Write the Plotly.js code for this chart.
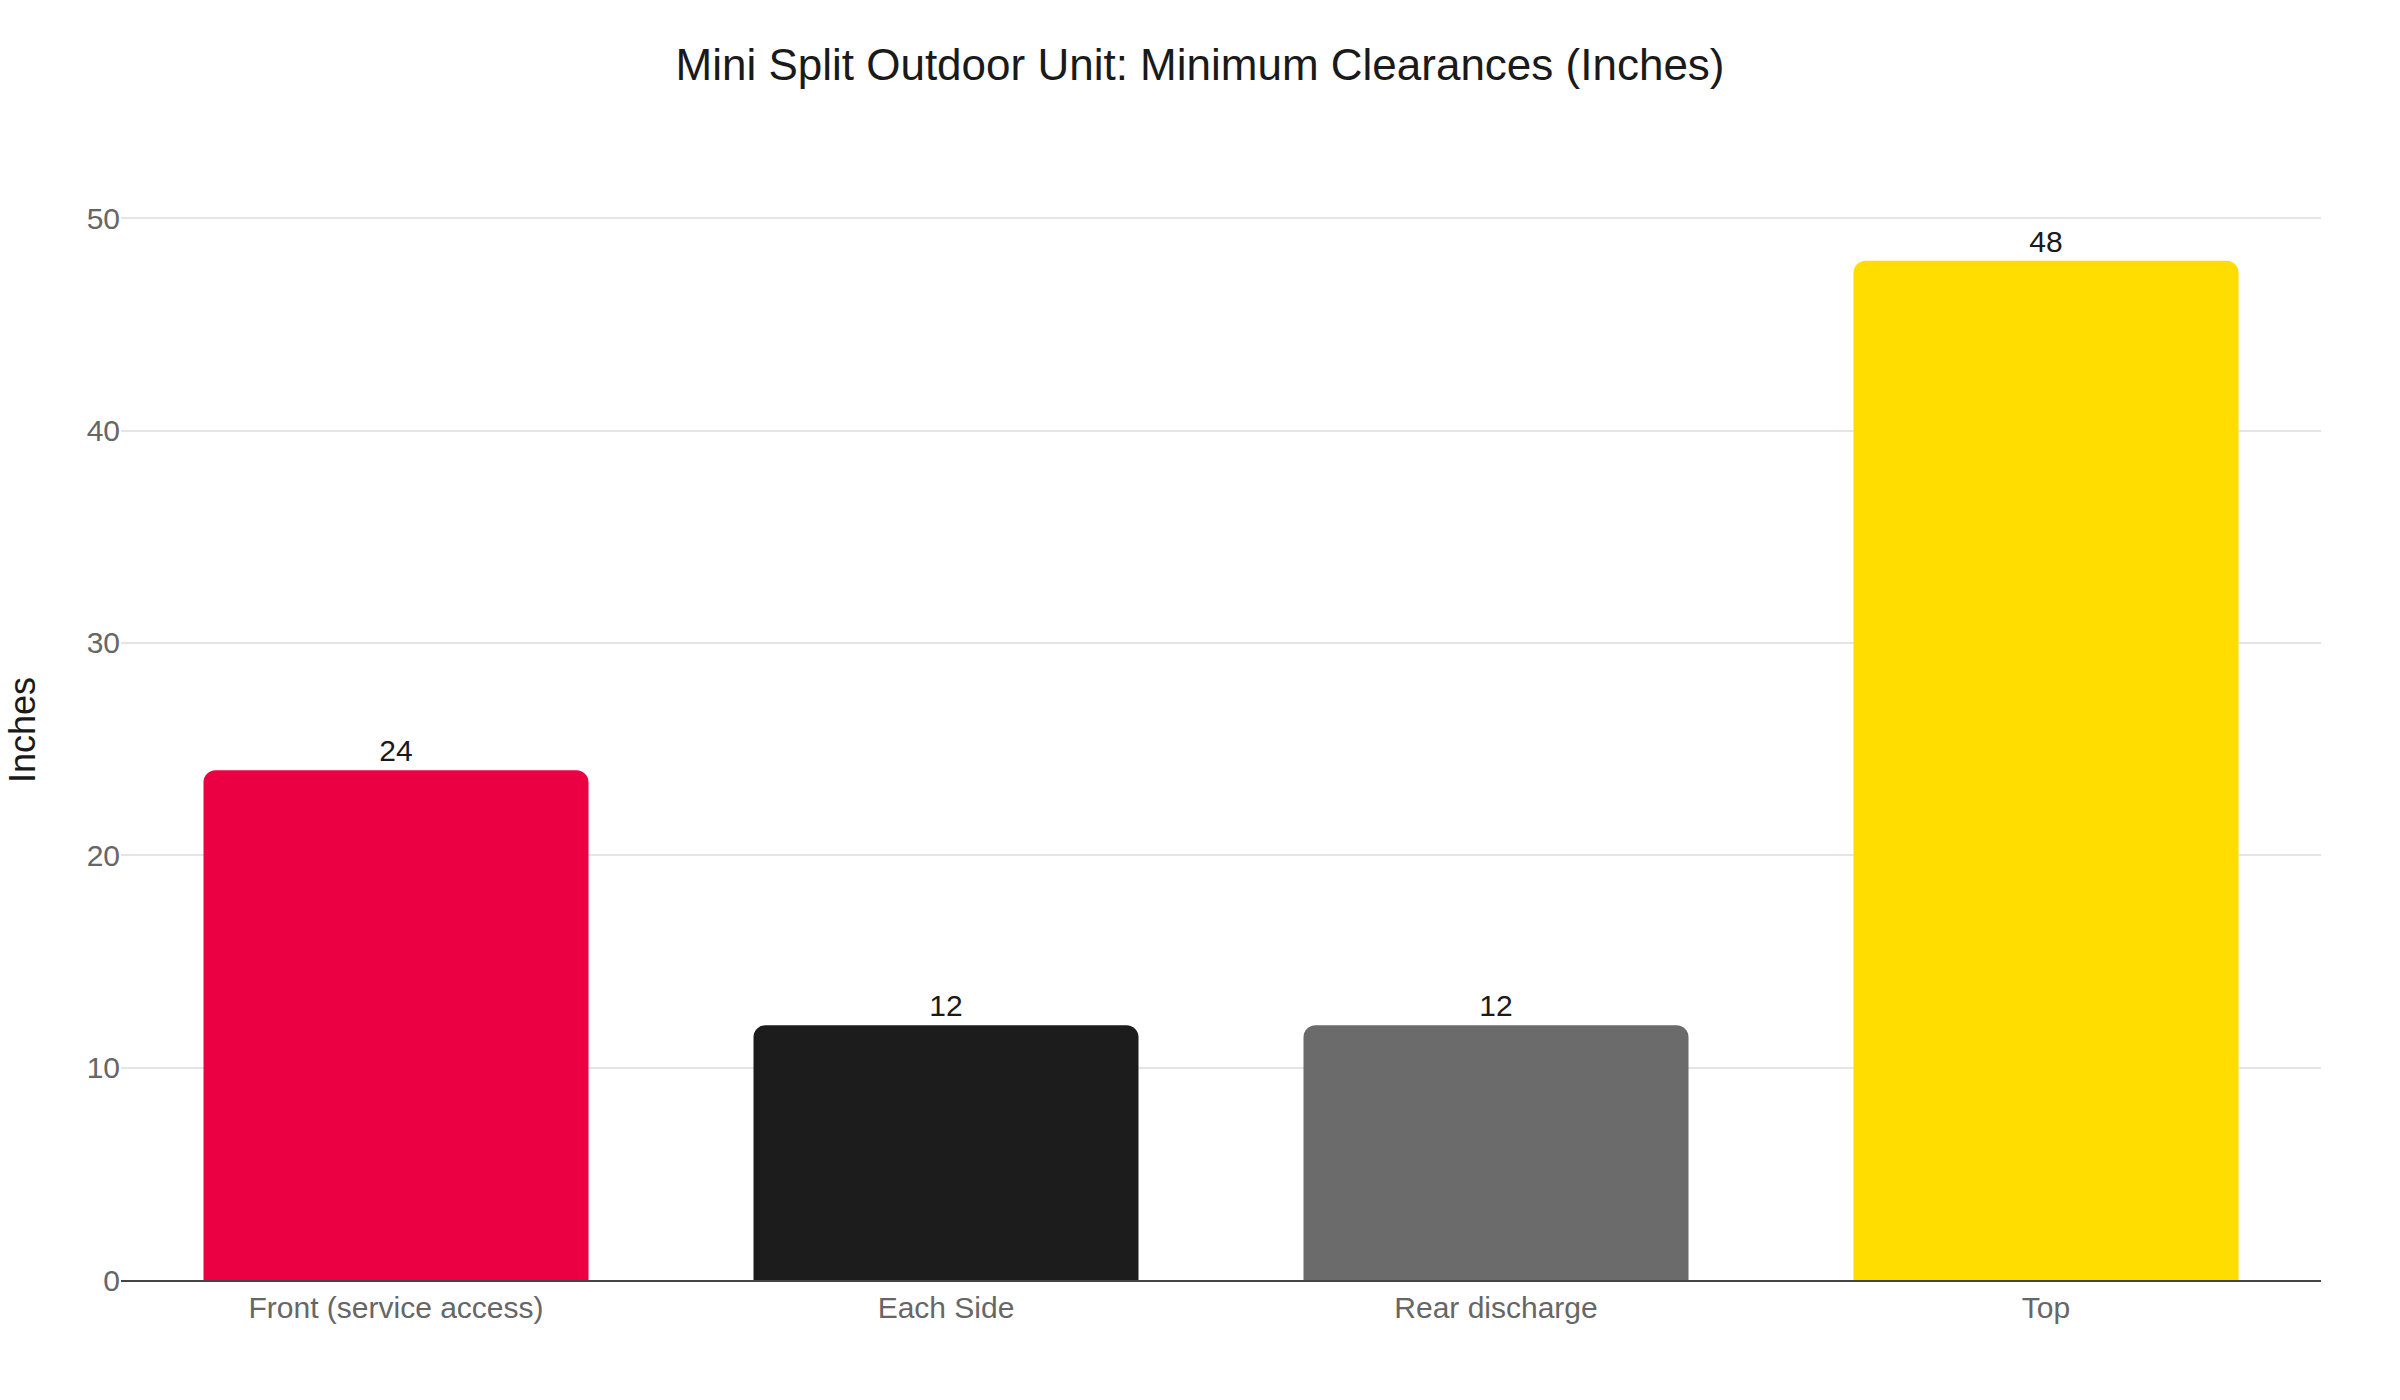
<!DOCTYPE html>
<html>
<head>
<meta charset="utf-8">
<script src="https://cdn.plot.ly/plotly-3.0.1.min.js"></script>
<style>
  html, body { margin: 0; padding: 0; background: #fff; }
  #chart { width: 2400px; height: 1400px; }
</style>
</head>
<body>
<div id="chart"></div>
<script>
"use strict";

// clearance data (inches)
const categories = ["Front (service access)", "Each Side", "Rear discharge", "Top"];
const clearances = [24, 12, 12, 48];
const barColors = ["#EC0044", "#1C1C1C", "#6B6B6B", "#FFDD00"];

const FONT = "Liberation Sans, Arial, Helvetica, sans-serif";

const data = [
  {
    type: "bar",
    x: categories,
    y: clearances,
    marker: { color: barColors },
    text: clearances.map(String),
    textposition: "outside",
    textfont: { family: FONT, size: 30, color: "#1a1a1a" },
    cliponaxis: false,
    hoverinfo: "x+y",
  },
];

const layout = {
  width: 2400,
  height: 1400,
  paper_bgcolor: "#ffffff",
  plot_bgcolor: "#ffffff",
  font: { family: FONT, color: "#1a1a1a" },
  title: {
    text: "Mini Split Outdoor Unit: Minimum Clearances (Inches)",
    font: { family: FONT, size: 44, color: "#1a1a1a" },
    x: 0.5,
    xanchor: "center",
    y: 0.954,
    yanchor: "middle",
  },
  margin: { l: 121, r: 79, t: 180, b: 120 },
  bargap: 0.3,
  barcornerradius: 12,
  showlegend: false,
  xaxis: {
    type: "category",
    showline: true,
    linecolor: "#444444",
    linewidth: 2,
    showgrid: false,
    ticks: "",
    tickfont: { family: FONT, size: 30, color: "#666666" },
  },
  yaxis: {
    range: [0, 51.8],
    dtick: 10,
    showline: false,
    zeroline: false,
    showgrid: true,
    gridcolor: "#e5e5e5",
    gridwidth: 2,
    ticks: "",
    tickfont: { family: FONT, size: 30, color: "#666666" },
    title: {
      text: "Inches",
      font: { family: FONT, size: 36, color: "#1a1a1a" },
      standoff: 40,
    },
  },
};

Plotly.newPlot("chart", data, layout, { displayModeBar: false, staticPlot: true });
</script>
</body>
</html>
